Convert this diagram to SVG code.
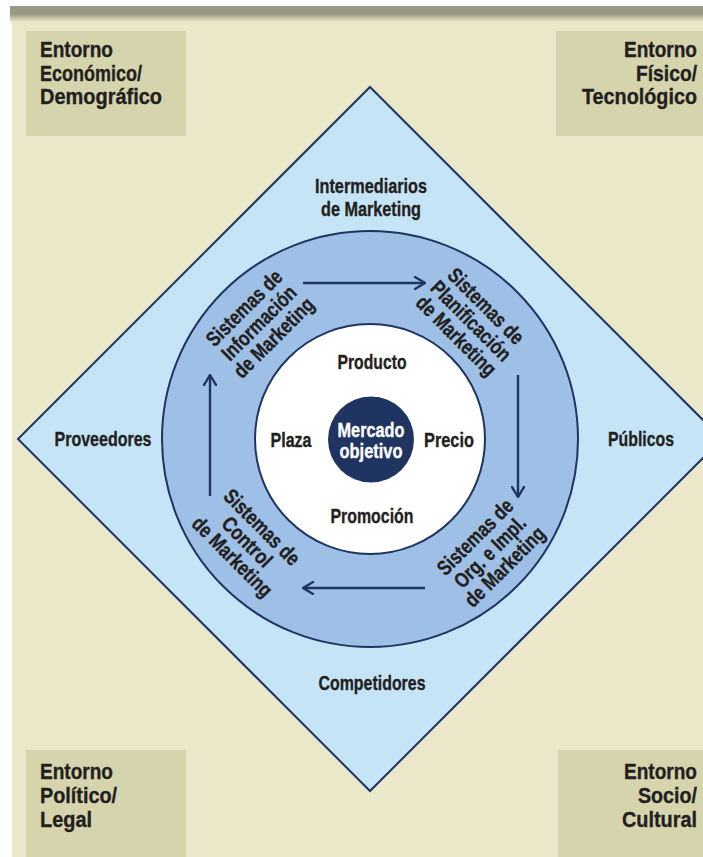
<svg xmlns="http://www.w3.org/2000/svg" width="703" height="857" viewBox="0 0 703 857">
  <defs>
    <linearGradient id="barFade" x1="0" y1="0" x2="0" y2="1">
      <stop offset="0" stop-color="#9A9984"/>
      <stop offset="1" stop-color="#EBE8CA"/>
    </linearGradient>
    <marker id="chev" viewBox="0 0 12 14" refX="11" refY="7" markerWidth="12" markerHeight="14" markerUnits="userSpaceOnUse" orient="auto">
      <path d="M1,1 L11,7 L1,13" fill="none" stroke="#1F3461" stroke-width="2.4" stroke-linecap="round" stroke-linejoin="round"/>
    </marker>
  </defs>
  <style>
    .t { font-family: "Liberation Sans", Arial, sans-serif; font-weight: bold; fill: #231F20; stroke: #231F20; stroke-width: 0.35px; }
    .env { font-size: 22px; }
    .lbl { font-size: 21px; text-anchor: middle; }
    .ring { font-size: 21px; text-anchor: middle; }
    .inv { fill: #FFFFFF; stroke: #FFFFFF; }
    .box { fill: #D5D4AC; }
    .edge { stroke: #1F3461; stroke-width: 2; }
    .arrow { fill: none; stroke: #1F3461; stroke-width: 2.4; marker-end: url(#chev); }
  </style>

  <!-- page background -->
  <rect x="0" y="0" width="703" height="857" fill="#FFFFFF"/>
  <rect x="12" y="6" width="691" height="851" fill="#EBE8CA"/>
  <rect x="10" y="6" width="693" height="8" fill="#9A9984"/>
  <rect x="10" y="14" width="693" height="8" fill="url(#barFade)"/>

  <!-- environment corner boxes -->
  <g id="entorno-economico">
    <rect class="box" x="26" y="31" width="160" height="105"/>
    <text class="t env" x="40" y="57" textLength="73" lengthAdjust="spacingAndGlyphs">Entorno</text>
    <text class="t env" x="40" y="81" textLength="102" lengthAdjust="spacingAndGlyphs">Económico/</text>
    <text class="t env" x="40" y="104" textLength="122" lengthAdjust="spacingAndGlyphs">Demográfico</text>
  </g>
  <g id="entorno-fisico">
    <rect class="box" x="556" y="31" width="147" height="105"/>
    <text class="t env" x="697" y="57" text-anchor="end" textLength="73" lengthAdjust="spacingAndGlyphs">Entorno</text>
    <text class="t env" x="697" y="81" text-anchor="end" textLength="61" lengthAdjust="spacingAndGlyphs">Físico/</text>
    <text class="t env" x="697" y="104" text-anchor="end" textLength="115" lengthAdjust="spacingAndGlyphs">Tecnológico</text>
  </g>
  <g id="entorno-politico">
    <rect class="box" x="26" y="750" width="160" height="107"/>
    <text class="t env" x="40" y="779" textLength="73" lengthAdjust="spacingAndGlyphs">Entorno</text>
    <text class="t env" x="40" y="803" textLength="77" lengthAdjust="spacingAndGlyphs">Político/</text>
    <text class="t env" x="40" y="827" textLength="52" lengthAdjust="spacingAndGlyphs">Legal</text>
  </g>
  <g id="entorno-socio">
    <rect class="box" x="558" y="750" width="145" height="107"/>
    <text class="t env" x="697" y="779" text-anchor="end" textLength="73" lengthAdjust="spacingAndGlyphs">Entorno</text>
    <text class="t env" x="697" y="803" text-anchor="end" textLength="59" lengthAdjust="spacingAndGlyphs">Socio/</text>
    <text class="t env" x="697" y="827" text-anchor="end" textLength="75" lengthAdjust="spacingAndGlyphs">Cultural</text>
  </g>

  <!-- microenvironment diamond -->
  <g id="microentorno">
    <polygon class="edge" points="370,87 722,439 370,791 18,439" fill="#C5E5F7"/>
    <text class="t lbl" x="371" y="193" textLength="112" lengthAdjust="spacingAndGlyphs">Intermediarios</text>
    <text class="t lbl" x="371" y="216" textLength="100" lengthAdjust="spacingAndGlyphs">de Marketing</text>
    <text class="t lbl" x="103" y="446" textLength="97" lengthAdjust="spacingAndGlyphs">Proveedores</text>
    <text class="t lbl" x="641" y="446" textLength="66" lengthAdjust="spacingAndGlyphs">Públicos</text>
    <text class="t lbl" x="372" y="690" textLength="107" lengthAdjust="spacingAndGlyphs">Competidores</text>
  </g>

  <!-- marketing systems ring -->
  <g id="sistemas">
    <circle class="edge" cx="370" cy="439" r="208" fill="#9EC0E6"/>
  </g>

  <!-- marketing mix -->
  <g id="mezcla">
    <circle class="edge" cx="370" cy="439" r="115" fill="#FFFFFF"/>
    <text class="t lbl" x="372" y="369" textLength="69" lengthAdjust="spacingAndGlyphs">Producto</text>
    <text class="t lbl" x="291" y="447" textLength="41" lengthAdjust="spacingAndGlyphs">Plaza</text>
    <text class="t lbl" x="449" y="447" textLength="50" lengthAdjust="spacingAndGlyphs">Precio</text>
    <text class="t lbl" x="372" y="523" textLength="83" lengthAdjust="spacingAndGlyphs">Promoción</text>
  </g>

  <g id="mercado-objetivo">
    <circle cx="371" cy="439.5" r="43" fill="#1F3461"/>
    <text class="t lbl inv" x="371" y="437" textLength="67" lengthAdjust="spacingAndGlyphs">Mercado</text>
    <text class="t lbl inv" x="371" y="458" textLength="63" lengthAdjust="spacingAndGlyphs">objetivo</text>
  </g>

  <g id="sis-informacion" transform="translate(259,323) rotate(-45)">
    <text class="t ring" x="0" y="-14" textLength="98" lengthAdjust="spacingAndGlyphs">Sistemas de</text>
    <text class="t ring" x="0" y="7" textLength="96" lengthAdjust="spacingAndGlyphs">Información</text>
    <text class="t ring" x="0" y="28" textLength="104" lengthAdjust="spacingAndGlyphs">de Marketing</text>
  </g>
  <g id="sis-planificacion" transform="translate(471,321) rotate(45)">
    <text class="t ring" x="0" y="-14" textLength="98" lengthAdjust="spacingAndGlyphs">Sistemas de</text>
    <text class="t ring" x="0" y="7" textLength="104" lengthAdjust="spacingAndGlyphs">Planificación</text>
    <text class="t ring" x="0" y="28" textLength="104" lengthAdjust="spacingAndGlyphs">de Marketing</text>
  </g>
  <g id="sis-control" transform="translate(247,542) rotate(45)">
    <text class="t ring" x="0" y="-14" textLength="98" lengthAdjust="spacingAndGlyphs">Sistemas de</text>
    <text class="t ring" x="0" y="7" textLength="62" lengthAdjust="spacingAndGlyphs">Control</text>
    <text class="t ring" x="0" y="28" textLength="104" lengthAdjust="spacingAndGlyphs">de Marketing</text>
  </g>
  <g id="sis-organizacion" transform="translate(490,552) rotate(-45)">
    <text class="t ring" x="0" y="-14" textLength="98" lengthAdjust="spacingAndGlyphs">Sistemas de</text>
    <text class="t ring" x="0" y="7" textLength="92" lengthAdjust="spacingAndGlyphs">Org. e Impl.</text>
    <text class="t ring" x="0" y="28" textLength="104" lengthAdjust="spacingAndGlyphs">de Marketing</text>
  </g>

  <!-- cycle connectors -->
  <g id="conectores">
    <line class="arrow" x1="303" y1="283" x2="425" y2="283"/>
    <line class="arrow" x1="518" y1="375" x2="518" y2="497"/>
    <line class="arrow" x1="425" y1="588" x2="303" y2="588"/>
    <line class="arrow" x1="210" y1="496" x2="210" y2="375"/>
  </g>
</svg>
